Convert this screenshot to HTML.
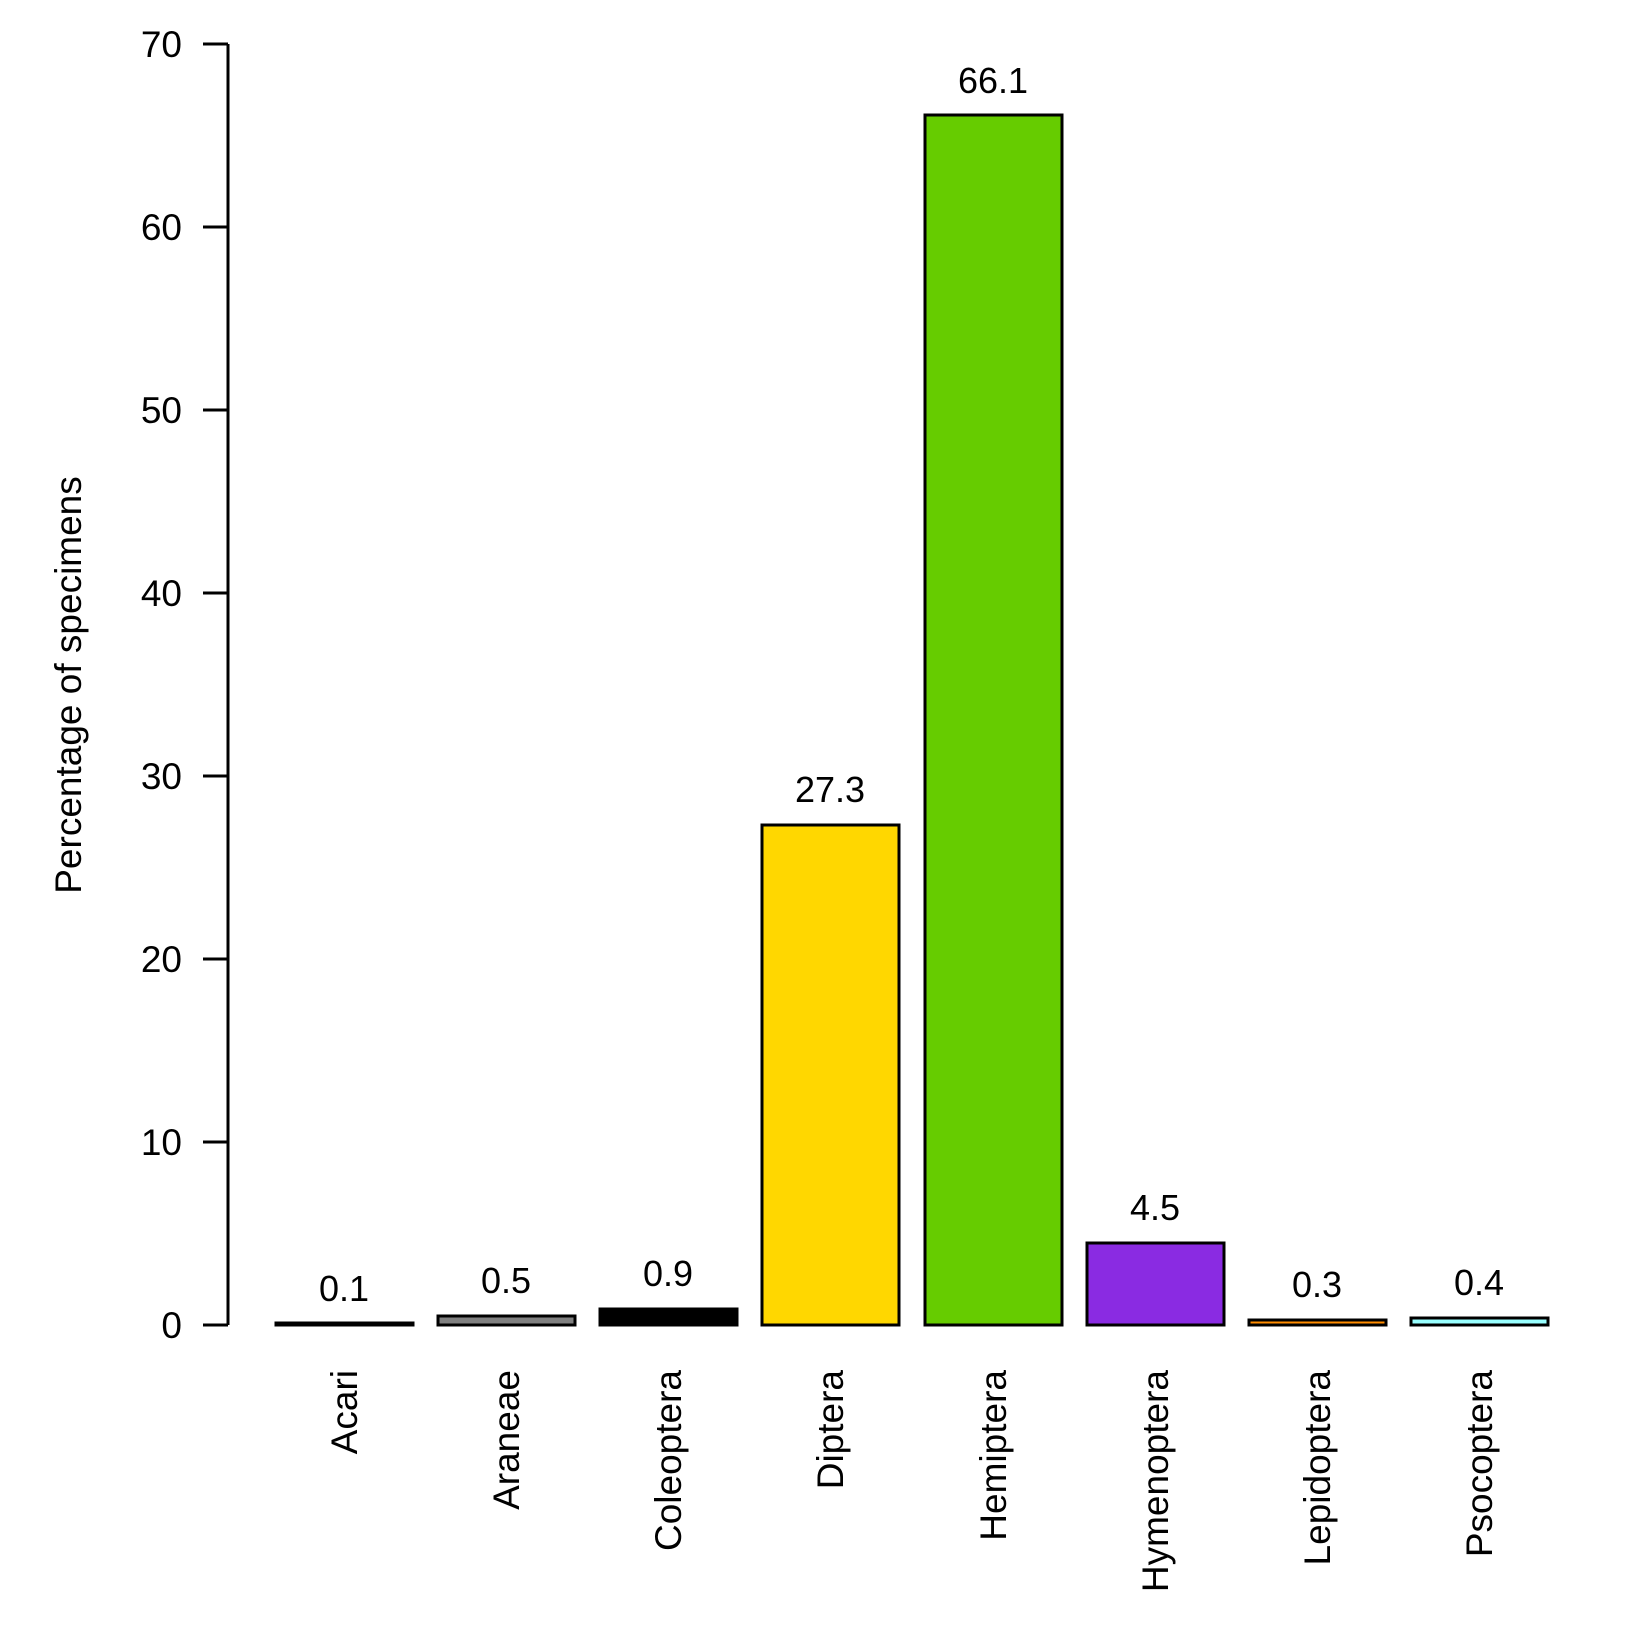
<!DOCTYPE html>
<html><head><meta charset="utf-8"><style>html,body{margin:0;padding:0;background:#fff}</style></head>
<body>
<svg width="1638" height="1637" xmlns="http://www.w3.org/2000/svg" font-family="Liberation Sans, Arial, sans-serif">
<g stroke="#000" stroke-width="3" fill="none">
<line x1="228" y1="44" x2="228" y2="1325"/>
<line x1="203" y1="44" x2="228" y2="44"/>
<line x1="203" y1="227" x2="228" y2="227"/>
<line x1="203" y1="410" x2="228" y2="410"/>
<line x1="203" y1="593" x2="228" y2="593"/>
<line x1="203" y1="776" x2="228" y2="776"/>
<line x1="203" y1="959" x2="228" y2="959"/>
<line x1="203" y1="1142" x2="228" y2="1142"/>
<line x1="203" y1="1325" x2="228" y2="1325"/>
</g>
<g font-size="37" text-anchor="end" fill="#000">
<text x="182" y="57">70</text>
<text x="182" y="240">60</text>
<text x="182" y="423">50</text>
<text x="182" y="606">40</text>
<text x="182" y="789">30</text>
<text x="182" y="972">20</text>
<text x="182" y="1155">10</text>
<text x="182" y="1338">0</text>
</g>
<text transform="translate(81,685) rotate(-90)" font-size="37" text-anchor="middle">Percentage of specimens</text>
<g stroke="#000" stroke-width="3">
<rect x="276" y="1323" width="137" height="2" fill="#000"/>
<rect x="438" y="1316" width="137" height="9" fill="#808080"/>
<rect x="600" y="1309" width="137" height="16" fill="#000"/>
<rect x="762" y="825" width="137" height="500" fill="#FFD700"/>
<rect x="925" y="115" width="137" height="1210" fill="#66CC00"/>
<rect x="1087" y="1243" width="137" height="82" fill="#8A2BE2"/>
<rect x="1249" y="1320" width="137" height="5" fill="#FF8C00"/>
<rect x="1411" y="1318" width="137" height="7" fill="#99FFFF"/>
</g>
<g font-size="36" text-anchor="middle">
<text x="344" y="1301">0.1</text>
<text x="506" y="1293">0.5</text>
<text x="668" y="1286">0.9</text>
<text x="830" y="802">27.3</text>
<text x="993" y="93">66.1</text>
<text x="1155" y="1220">4.5</text>
<text x="1317" y="1297">0.3</text>
<text x="1479" y="1295">0.4</text>
</g>
<g font-size="37" text-anchor="end">
<text transform="translate(357,1370) rotate(-90)">Acari</text>
<text transform="translate(519,1370) rotate(-90)">Araneae</text>
<text transform="translate(681,1370) rotate(-90)">Coleoptera</text>
<text transform="translate(843,1370) rotate(-90)">Diptera</text>
<text transform="translate(1006,1370) rotate(-90)">Hemiptera</text>
<text transform="translate(1168,1370) rotate(-90)">Hymenoptera</text>
<text transform="translate(1330,1370) rotate(-90)">Lepidoptera</text>
<text transform="translate(1492,1370) rotate(-90)">Psocoptera</text>
</g>
</svg>
</body></html>
